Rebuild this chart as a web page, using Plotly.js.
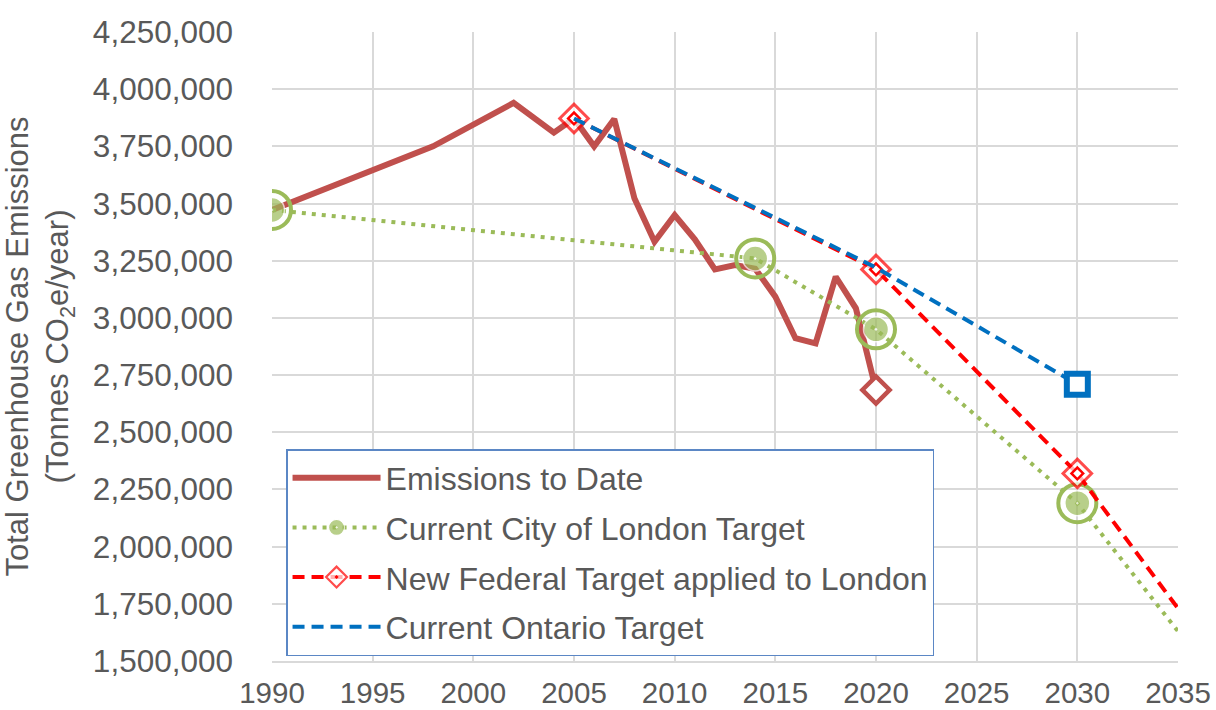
<!DOCTYPE html>
<html>
<head>
<meta charset="utf-8">
<script src="https://cdn.plot.ly/plotly-3.0.1.min.js"></script>
<style>html,body{margin:0;padding:0;background:#fff;}#chart{width:1216px;height:710px;}</style>
</head>
<body>
<div id="chart"></div>
<script>
// ---- data ----
const emissionYears = [1990, 1998, 2002, 2004, 2005, 2006, 2007, 2008, 2009, 2010, 2011, 2012, 2013, 2014, 2015, 2016, 2017, 2018, 2019, 2020];
const emissions = [3472000, 3750000, 3940000, 3810000, 3872000, 3750000, 3870000, 3523000, 3333000, 3450000, 3344000, 3212000, 3231000, 3215000, 3093000, 2911000, 2889000, 3180000, 3042000, 2685000];

const cityYears = [1990, 2014, 2020, 2030, 2035];
const cityTarget = [3472000, 3260000, 2950000, 2190000, 1630000];

const fedYears = [2005, 2020, 2030, 2035];
const fedTarget = [3872000, 3212000, 2320000, 1730000];

const ontYears = [2005, 2020, 2030];
const ontTarget = [3872000, 3220000, 2710000];

const seriesNames = ["Emissions to Date", "Current City of London Target", "New Federal Target applied to London", "Current Ontario Target"];
const xTicks = [1990, 1995, 2000, 2005, 2010, 2015, 2020, 2025, 2030, 2035];

// ---- styles ----
const cBrown = "#C0504D", cGreen = "#9BBB59", cRed = "#FF0000", cBlue = "#0070C0";
const textCol = "#595959";
const FONT = "Liberation Sans, Arial, sans-serif";

const nCityMarkers = 4, nFedMarkers = 3;
const citySizes = cityYears.map((_, i) => i < nCityMarkers ? 25 : 0);
const cityLw = cityYears.map((_, i) => i < nCityMarkers ? 1.5 : 0);
const fedSizes = fedYears.map((_, i) => i < nFedMarkers ? 22 : 0);
const fedLw = fedYears.map((_, i) => i < nFedMarkers ? 3 : 0);

const traces = [
  {x: emissionYears, y: emissions, name: seriesNames[0], legendgroup: "a", mode: "lines",
   line: {color: cBrown, width: 6}},
  {x: emissionYears.slice(-1), y: emissions.slice(-1), legendgroup: "a", showlegend: false, mode: "markers",
   marker: {symbol: "diamond", size: 21, color: "#FFFFFF", line: {color: cBrown, width: 4.5}}},
  {x: cityYears, y: cityTarget, name: seriesNames[1], legendgroup: "b", mode: "lines+markers",
   line: {color: cGreen, width: 4, dash: "4px,6px"},
   marker: {symbol: "circle-dot", size: citySizes, color: cGreen, line: {color: "#FFFFFF", width: cityLw}}},
  {x: cityYears.slice(0, nCityMarkers), y: cityTarget.slice(0, nCityMarkers), legendgroup: "b", showlegend: false, mode: "markers",
   marker: {symbol: "circle-open", size: 38, color: cGreen, line: {color: cGreen, width: 4}}},
  {x: fedYears, y: fedTarget, name: seriesNames[2], legendgroup: "c", mode: "lines+markers",
   line: {color: cRed, width: 4, dash: "12px,7px"},
   marker: {symbol: "diamond-dot", size: fedSizes, color: "#FFFFFF", line: {color: cRed, width: fedLw}}},
  {x: fedYears.slice(0, nFedMarkers), y: fedTarget.slice(0, nFedMarkers), legendgroup: "c", showlegend: false, mode: "markers",
   marker: {symbol: "diamond", size: 9, color: "#FFFFFF", line: {color: cRed, width: 2.5}}},
  {x: ontYears, y: ontTarget, name: seriesNames[3], legendgroup: "d", mode: "lines",
   line: {color: cBlue, width: 4, dash: "12px,7px"}},
  {x: ontYears.slice(-1), y: ontTarget.slice(-1), legendgroup: "d", showlegend: false, mode: "markers",
   marker: {symbol: "square", size: 21, color: "#FFFFFF", line: {color: cBlue, width: 6}}}
];

const layout = {
  width: 1216, height: 710, autosize: false,
  margin: {l: 272, r: 38, t: 32, b: 49, pad: 0},
  paper_bgcolor: "#FFFFFF", plot_bgcolor: "#FFFFFF",
  font: {family: FONT, size: 31, color: textCol},
  showlegend: true,
  xaxis: {
    range: [1990, 2035], tickvals: xTicks, ticktext: xTicks.map(String),
    showgrid: true, gridcolor: "#D9D9D9", gridwidth: 2,
    showline: true, linecolor: "#D9D9D9", linewidth: 2,
    zeroline: false, ticks: "", ticklabelstandoff: 5,
    tickfont: {family: FONT, size: 29.5, color: textCol}
  },
  yaxis: {
    range: [1500000, 4250000], dtick: 250000, tick0: 1500000, tickformat: ",d",
    showgrid: true, gridcolor: "#D9D9D9", gridwidth: 2,
    zeroline: false, ticks: "", ticklabelstandoff: 38,
    tickfont: {family: FONT, size: 31.5, color: textCol},
    title: {text: "Total Greenhouse Gas Emissions<br>(Tonnes CO<sub>2</sub>e/year)", font: {family: FONT, size: 31, color: textCol}, standoff: 20}
  },
  legend: {
    x: 0.0155, y: 0.337, xanchor: "left", yanchor: "top",
    bgcolor: "#FFFFFF", bordercolor: "#5B87C5", borderwidth: 1.5,
    font: {family: FONT, size: 32, color: textCol},
    itemwidth: 88, traceorder: "grouped", tracegroupgap: 5
  }
};

Plotly.newPlot("chart", traces, layout, {displayModeBar: false, staticPlot: true});
</script>
</body>
</html>
